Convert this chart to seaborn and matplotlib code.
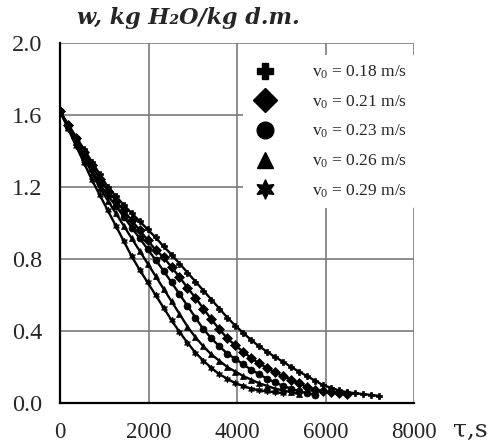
import numpy as np
import pandas as pd
import matplotlib
matplotlib.use("Agg")
import matplotlib.pyplot as plt
from matplotlib.ticker import MultipleLocator
from matplotlib.lines import Line2D
import seaborn as sns

labels = ["v$_0$ = 0.18 m/s", "v$_0$ = 0.21 m/s", "v$_0$ = 0.23 m/s",
          "v$_0$ = 0.26 m/s", "v$_0$ = 0.29 m/s"]

t_018 = [0, 180, 360, 540, 720, 900, 1080, 1260, 1440, 1620, 1800, 1980, 2160, 2340, 2520,
         2700, 2880, 3060, 3240, 3420, 3600, 3780, 3960, 4140, 4320, 4500, 4680, 4860, 5040,
         5220, 5400, 5580, 5760, 5940, 6120, 6300, 6480, 6660, 6840, 7020, 7200]
w_018 = [1.62, 1.55, 1.48, 1.41, 1.34, 1.27, 1.20, 1.15, 1.10, 1.055, 1.01, 0.965, 0.92, 0.87,
         0.825, 0.775, 0.725, 0.675, 0.625, 0.575, 0.525, 0.475, 0.43, 0.39, 0.35, 0.315, 0.285,
         0.255, 0.23, 0.20, 0.175, 0.15, 0.125, 0.10, 0.085, 0.07, 0.06, 0.055, 0.05, 0.045, 0.04]

t_021 = [0, 180, 360, 540, 720, 900, 1080, 1260, 1440, 1620, 1800, 1980, 2160, 2340, 2520,
         2700, 2880, 3060, 3240, 3420, 3600, 3780, 3960, 4140, 4320, 4500, 4680, 4860, 5040,
         5220, 5400, 5580, 5760, 5940, 6120, 6300, 6480]
w_021 = [1.62, 1.545, 1.47, 1.395, 1.32, 1.245, 1.18, 1.125, 1.07, 1.015, 0.96, 0.905, 0.85,
         0.81, 0.755, 0.70, 0.64, 0.585, 0.525, 0.465, 0.41, 0.36, 0.32, 0.285, 0.25, 0.22,
         0.195, 0.17, 0.15, 0.13, 0.11, 0.09, 0.075, 0.065, 0.06, 0.055, 0.05]

t_023 = [0, 180, 360, 540, 720, 900, 1080, 1260, 1440, 1620, 1800, 1980, 2160, 2340, 2520,
         2700, 2880, 3060, 3240, 3420, 3600, 3780, 3960, 4140, 4320, 4500, 4680, 4860, 5040,
         5220, 5400, 5580, 5760]
w_023 = [1.62, 1.54, 1.46, 1.38, 1.30, 1.215, 1.155, 1.095, 1.035, 0.975, 0.915, 0.855, 0.795,
         0.735, 0.67, 0.605, 0.54, 0.475, 0.41, 0.36, 0.315, 0.275, 0.245, 0.215, 0.185, 0.16,
         0.135, 0.115, 0.095, 0.08, 0.065, 0.055, 0.045]

t_026 = [0, 180, 360, 540, 720, 900, 1080, 1260, 1440, 1620, 1800, 1980, 2160, 2340, 2520,
         2700, 2880, 3060, 3240, 3420, 3600, 3780, 3960, 4140, 4320, 4500, 4680, 4860, 5040,
         5220, 5400]
w_026 = [1.62, 1.535, 1.45, 1.365, 1.28, 1.195, 1.125, 1.055, 0.985, 0.915, 0.845, 0.775,
         0.705, 0.635, 0.565, 0.495, 0.425, 0.365, 0.315, 0.27, 0.235, 0.20, 0.175, 0.15, 0.13,
         0.11, 0.095, 0.08, 0.07, 0.06, 0.05]

t_029 = [0, 180, 360, 540, 720, 900, 1080, 1260, 1440, 1620, 1800, 1980, 2160, 2340, 2520,
         2700, 2880, 3060, 3240, 3420, 3600, 3780, 3960, 4140, 4320, 4500, 4680, 4860, 5040]
w_029 = [1.62, 1.525, 1.43, 1.335, 1.24, 1.155, 1.07, 0.985, 0.90, 0.815, 0.74, 0.67, 0.60,
         0.53, 0.46, 0.395, 0.335, 0.28, 0.235, 0.195, 0.16, 0.135, 0.11, 0.095, 0.08, 0.07,
         0.065, 0.06, 0.055]

x_ticks = [0, 2000, 4000, 6000, 8000]
y_ticks = [0.0, 0.4, 0.8, 1.2, 1.6, 2.0]

series_t = [t_018, t_021, t_023, t_026, t_029]
series_w = [w_018, w_021, w_023, w_026, w_029]
frames = []
for lab, tt, ww in zip(labels, series_t, series_w):
    frames.append(pd.DataFrame({"t": tt, "w": ww, "series": lab}))
df = pd.concat(frames, ignore_index=True)

sns.set_style("white")
plt.rcParams["font.family"] = ["Liberation Serif", "DejaVu Serif"]
plt.rcParams["mathtext.fontset"] = "custom"
plt.rcParams["mathtext.rm"] = "Liberation Serif"
plt.rcParams["mathtext.it"] = "Liberation Serif:italic"

star6 = (6, 1, 0)
marker_list = ["P", "D", "o", "^", star6]
markers = dict(zip(labels, marker_list))
palette = dict(zip(labels, ["black"] * 5))

fig = plt.figure(figsize=(5.0, 4.48), dpi=100)
ax = fig.add_axes([0.12, 0.1004, 0.708, 0.8036])

sns.lineplot(data=df, x="t", y="w", hue="series", style="series", markers=markers,
             dashes=False, palette=palette, linewidth=1.7, markersize=5,
             markeredgecolor="black", markeredgewidth=0.5, legend=False, ax=ax,
             sort=False, zorder=3)

ax.set_xlim(0, 8000)
ax.set_ylim(0, 2.0)
ax.set_xticks(x_ticks)
ax.set_yticks(y_ticks)
ax.set_xticklabels([str(v) for v in x_ticks])
ax.set_yticklabels([f"{v:.1f}" for v in y_ticks])
ax.xaxis.set_minor_locator(MultipleLocator(125))
ax.yaxis.set_minor_locator(MultipleLocator(0.025))
ax.set_xlabel("")
ax.set_ylabel("")
ax.grid(True, which="major", color="#7a7a7a", linewidth=1.2)
ax.set_axisbelow(True)
for s in ["top", "right"]:
    ax.spines[s].set_visible(False)
for s in ["left", "bottom"]:
    ax.spines[s].set_color("black")
    ax.spines[s].set_linewidth(1.6)
    ax.spines[s].set_zorder(5)

ax.tick_params(axis="both", which="major", length=9, width=1.4,
               direction="out", color="black", pad=4)
ax.tick_params(axis="x", which="major", labelsize=16.5, length=12, pad=2)
ax.tick_params(axis="y", which="major", labelsize=17.5)
ax.tick_params(axis="x", which="minor", length=4, width=1.0, direction="out", color="black")
ax.tick_params(axis="y", which="minor", length=4, width=1.0, direction="in", color="black")

handles = [Line2D([], [], linestyle="none", marker=m, color="black",
                  markersize=12 if m != star6 else 14) for m in marker_list]
leg = ax.legend(handles, labels, loc="upper right", bbox_to_anchor=(1.03, 0.99),
                frameon=True, fontsize=12.5, handletextpad=2.0, labelspacing=0.7,
                borderpad=0.5, handlelength=1.5)
leg.get_frame().set_facecolor("white")
leg.get_frame().set_edgecolor("none")
leg.get_frame().set_alpha(1.0)
leg.set_zorder(4)

fig.text(0.377, 0.96, "w, kg H\u2082O/kg d.m.", ha="center", va="center",
         fontsize=16, fontweight="bold", fontstyle="italic", family=["DejaVu Serif"])
fig.text(0.94, 0.04, "\u03c4,s", ha="center", va="center", fontsize=18,
         family=["DejaVu Serif"])

fig.savefig("out.png", dpi=100)
